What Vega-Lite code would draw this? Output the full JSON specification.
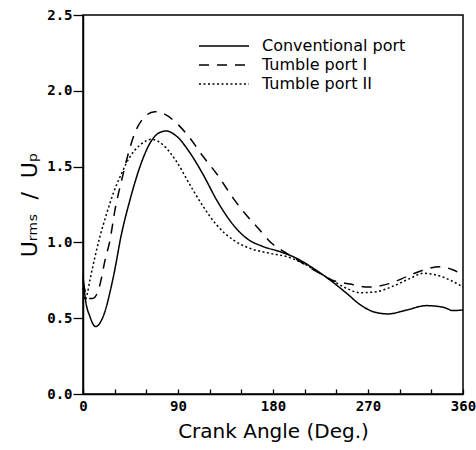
{
  "$schema": "https://vega.github.io/schema/vega-lite/v6.json",
  "width": 380,
  "height": 379,
  "autosize": "none",
  "padding": {"left": 83, "top": 15, "right": 13, "bottom": 56},
  "background": "white",
  "config": {
    "view": {"stroke": "black", "strokeWidth": 1.5},
    "axis": {
      "domainColor": "black",
      "domainWidth": 1.5,
      "tickColor": "black",
      "tickWidth": 1.3,
      "grid": false,
      "labelColor": "black",
      "labelFont": "DejaVu Sans Mono",
      "labelFontWeight": "bold",
      "labelFontSize": 14,
      "titleColor": "black",
      "titleFont": "DejaVu Sans",
      "titleFontWeight": "normal",
      "titleFontSize": 20
    }
  },
  "data": {
    "values": [
      {"angle": 0, "v": 0.78, "port": "Conventional port"},
      {"angle": 2, "v": 0.64, "port": "Conventional port"},
      {"angle": 6.6, "v": 0.51, "port": "Conventional port"},
      {"angle": 12, "v": 0.445, "port": "Conventional port"},
      {"angle": 19, "v": 0.51, "port": "Conventional port"},
      {"angle": 28.7, "v": 0.77, "port": "Conventional port"},
      {"angle": 36.6, "v": 1.06, "port": "Conventional port"},
      {"angle": 44.5, "v": 1.28, "port": "Conventional port"},
      {"angle": 54, "v": 1.5, "port": "Conventional port"},
      {"angle": 63.5, "v": 1.655, "port": "Conventional port"},
      {"angle": 71.4, "v": 1.72, "port": "Conventional port"},
      {"angle": 78.6, "v": 1.735, "port": "Conventional port"},
      {"angle": 88.7, "v": 1.7, "port": "Conventional port"},
      {"angle": 101.4, "v": 1.59, "port": "Conventional port"},
      {"angle": 114, "v": 1.445, "port": "Conventional port"},
      {"angle": 126.6, "v": 1.28, "port": "Conventional port"},
      {"angle": 142.4, "v": 1.115, "port": "Conventional port"},
      {"angle": 155, "v": 1.027, "port": "Conventional port"},
      {"angle": 170.8, "v": 0.972, "port": "Conventional port"},
      {"angle": 186.6, "v": 0.939, "port": "Conventional port"},
      {"angle": 202.4, "v": 0.895, "port": "Conventional port"},
      {"angle": 218.2, "v": 0.829, "port": "Conventional port"},
      {"angle": 234, "v": 0.752, "port": "Conventional port"},
      {"angle": 249.8, "v": 0.664, "port": "Conventional port"},
      {"angle": 262.4, "v": 0.59, "port": "Conventional port"},
      {"angle": 275, "v": 0.543, "port": "Conventional port"},
      {"angle": 289, "v": 0.528, "port": "Conventional port"},
      {"angle": 306.6, "v": 0.554, "port": "Conventional port"},
      {"angle": 325.6, "v": 0.583, "port": "Conventional port"},
      {"angle": 341.3, "v": 0.572, "port": "Conventional port"},
      {"angle": 350.8, "v": 0.55, "port": "Conventional port"},
      {"angle": 360, "v": 0.555, "port": "Conventional port"},

      {"angle": 0, "v": 0.74, "port": "Tumble port I"},
      {"angle": 3, "v": 0.66, "port": "Tumble port I"},
      {"angle": 6, "v": 0.63, "port": "Tumble port I"},
      {"angle": 9, "v": 0.63, "port": "Tumble port I"},
      {"angle": 11.4, "v": 0.64, "port": "Tumble port I"},
      {"angle": 16, "v": 0.72, "port": "Tumble port I"},
      {"angle": 20.8, "v": 0.88, "port": "Tumble port I"},
      {"angle": 25.6, "v": 1.016, "port": "Tumble port I"},
      {"angle": 30.3, "v": 1.214, "port": "Tumble port I"},
      {"angle": 36.6, "v": 1.41, "port": "Tumble port I"},
      {"angle": 43, "v": 1.588, "port": "Tumble port I"},
      {"angle": 49, "v": 1.72, "port": "Tumble port I"},
      {"angle": 57, "v": 1.818, "port": "Tumble port I"},
      {"angle": 68, "v": 1.862, "port": "Tumble port I"},
      {"angle": 76, "v": 1.851, "port": "Tumble port I"},
      {"angle": 88.7, "v": 1.786, "port": "Tumble port I"},
      {"angle": 101.4, "v": 1.687, "port": "Tumble port I"},
      {"angle": 114, "v": 1.565, "port": "Tumble port I"},
      {"angle": 128, "v": 1.44, "port": "Tumble port I"},
      {"angle": 142.4, "v": 1.29, "port": "Tumble port I"},
      {"angle": 153.5, "v": 1.19, "port": "Tumble port I"},
      {"angle": 166, "v": 1.093, "port": "Tumble port I"},
      {"angle": 178.8, "v": 0.994, "port": "Tumble port I"},
      {"angle": 193, "v": 0.928, "port": "Tumble port I"},
      {"angle": 205.6, "v": 0.873, "port": "Tumble port I"},
      {"angle": 221.4, "v": 0.807, "port": "Tumble port I"},
      {"angle": 235.6, "v": 0.752, "port": "Tumble port I"},
      {"angle": 253, "v": 0.725, "port": "Tumble port I"},
      {"angle": 270, "v": 0.705, "port": "Tumble port I"},
      {"angle": 291, "v": 0.73, "port": "Tumble port I"},
      {"angle": 306.6, "v": 0.774, "port": "Tumble port I"},
      {"angle": 322.4, "v": 0.818, "port": "Tumble port I"},
      {"angle": 338.2, "v": 0.84, "port": "Tumble port I"},
      {"angle": 350.8, "v": 0.818, "port": "Tumble port I"},
      {"angle": 360, "v": 0.785, "port": "Tumble port I"},

      {"angle": 0, "v": 0.7, "port": "Tumble port II"},
      {"angle": 2, "v": 0.62, "port": "Tumble port II"},
      {"angle": 4, "v": 0.66, "port": "Tumble port II"},
      {"angle": 6.6, "v": 0.752, "port": "Tumble port II"},
      {"angle": 11.4, "v": 0.906, "port": "Tumble port II"},
      {"angle": 16, "v": 1.037, "port": "Tumble port II"},
      {"angle": 22.4, "v": 1.19, "port": "Tumble port II"},
      {"angle": 28.7, "v": 1.324, "port": "Tumble port II"},
      {"angle": 36.6, "v": 1.456, "port": "Tumble port II"},
      {"angle": 44.5, "v": 1.565, "port": "Tumble port II"},
      {"angle": 54, "v": 1.642, "port": "Tumble port II"},
      {"angle": 65, "v": 1.68, "port": "Tumble port II"},
      {"angle": 76, "v": 1.642, "port": "Tumble port II"},
      {"angle": 88.7, "v": 1.532, "port": "Tumble port II"},
      {"angle": 101.4, "v": 1.379, "port": "Tumble port II"},
      {"angle": 114, "v": 1.235, "port": "Tumble port II"},
      {"angle": 126.6, "v": 1.115, "port": "Tumble port II"},
      {"angle": 142.4, "v": 1.016, "port": "Tumble port II"},
      {"angle": 158, "v": 0.961, "port": "Tumble port II"},
      {"angle": 177, "v": 0.928, "port": "Tumble port II"},
      {"angle": 193, "v": 0.906, "port": "Tumble port II"},
      {"angle": 208.7, "v": 0.862, "port": "Tumble port II"},
      {"angle": 224.5, "v": 0.796, "port": "Tumble port II"},
      {"angle": 235.6, "v": 0.752, "port": "Tumble port II"},
      {"angle": 249.8, "v": 0.697, "port": "Tumble port II"},
      {"angle": 262.4, "v": 0.668, "port": "Tumble port II"},
      {"angle": 278, "v": 0.675, "port": "Tumble port II"},
      {"angle": 294, "v": 0.712, "port": "Tumble port II"},
      {"angle": 310, "v": 0.763, "port": "Tumble port II"},
      {"angle": 322.4, "v": 0.796, "port": "Tumble port II"},
      {"angle": 338.2, "v": 0.778, "port": "Tumble port II"},
      {"angle": 350.8, "v": 0.741, "port": "Tumble port II"},
      {"angle": 360, "v": 0.705, "port": "Tumble port II"}
    ]
  },
  "mark": {"type": "line", "interpolate": "monotone", "color": "black", "strokeWidth": 1.5},
  "encoding": {
    "x": {
      "field": "angle",
      "type": "quantitative",
      "scale": {"domain": [0, 360], "nice": false, "zero": false},
      "axis": {
        "title": "Crank Angle (Deg.)",
        "values": [0, 30, 60, 90, 120, 150, 180, 210, 240, 270, 300, 330, 360],
        "labelExpr": "datum.value % 90 == 0 ? datum.label : ''",
        "tickSize": -5,
        "labelPadding": 10,
        "labelFlush": false,
        "labelOverlap": false,
        "titlePadding": 8
      }
    },
    "y": {
      "field": "v",
      "type": "quantitative",
      "scale": {"domain": [0, 2.5], "nice": false},
      "axis": {
        "title": "Uᵣₘₛ\u00a0\u00a0/\u00a0\u00a0Uₚ",
        "titleFontSize": 22,
        "values": [0, 0.5, 1, 1.5, 2, 2.5],
        "format": ".1f",
        "tickSize": 10,
        "labelPadding": 1,
        "labelFlush": false,
        "labelOverlap": false,
        "titlePadding": 5
      }
    },
    "strokeDash": {
      "field": "port",
      "type": "nominal",
      "scale": {
        "domain": ["Conventional port", "Tumble port I", "Tumble port II"],
        "range": [[1, 0], [10, 8], [2, 2.5]]
      },
      "legend": {
        "orient": "none",
        "legendX": 132,
        "legendY": 22,
        "title": null,
        "padding": 0,
        "symbolType": "M-3.125,0H3.125",
        "symbolSize": 256,
        "symbolStrokeWidth": 1.5,
        "symbolStrokeColor": "black",
        "symbolFillColor": "transparent",
        "labelOffset": 29,
        "labelFont": "DejaVu Sans",
        "labelFontSize": 16,
        "labelColor": "black",
        "labelLimit": 300,
        "rowPadding": 2
      }
    }
  }
}
